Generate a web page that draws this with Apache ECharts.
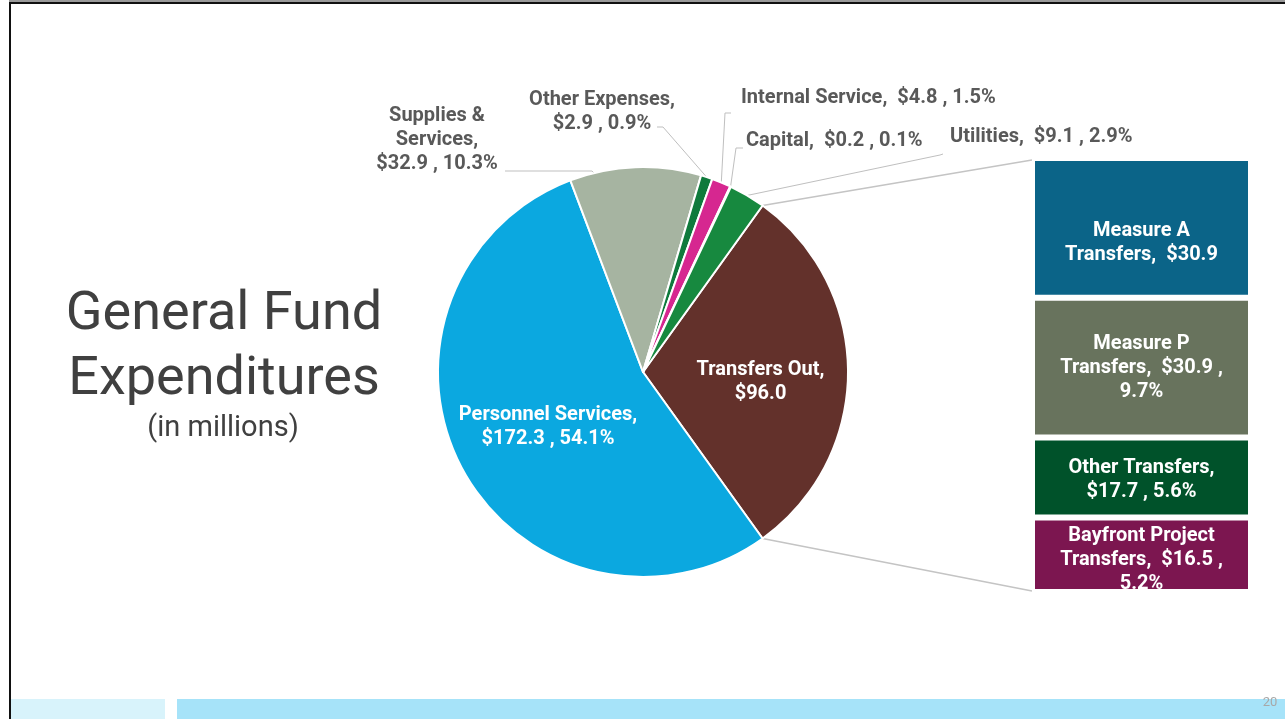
<!DOCTYPE html>
<html>
<head>
<meta charset="utf-8">
<title>General Fund Expenditures</title>
<script src="https://cdn.jsdelivr.net/npm/echarts@6/dist/echarts.min.js"></script>
<style>
  html, body { margin: 0; padding: 0; background: #fff; }
  #main { width: 1285px; height: 719px; }
</style>
</head>
<body>
<div id="main"></div>
<script>
// pie slices, clockwise from the top edge of Transfers Out
const pieNames = ['Transfers Out', 'Personnel Services', 'Supplies &\nServices', 'Other Expenses',
  'Internal Service', 'Capital', 'Utilities'];
const pieValues = [96.0, 172.3, 32.9, 2.9, 4.8, 0.2, 9.1];
const pieColors = ['#63312B', '#0BA8E0', '#A6B4A1', '#0F7A3C', '#D62790', '#1B8A44', '#17893F'];
const pieSep = ['\n', '\n', '\n', '\n', '  ', '  ', '  '];
const piePct = [false, true, true, true, true, true, true];

// breakdown of Transfers Out
const trNames = ['Measure A\nTransfers', 'Measure P\nTransfers', 'Other Transfers', 'Bayfront Project\nTransfers'];
const trValues = [30.9, 30.9, 17.7, 16.5];
const trColors = ['#0B6488', '#68735D', '#00522A', '#7C1650'];
const trSep = ['  ', '  ', '\n', '  '];
const trPct = [false, true, true, true];

const pieTotal = pieValues.reduce((a, b) => a + b, 0);
const trTotal = trValues.reduce((a, b) => a + b, 0);

// layout
const pieCenter = [643, 372];
const pieRadius = 205;
const startAngle = (pieValues[0] / pieTotal) * 180; // Transfers Out centred on the right
const bar = { left: 1032, top: 158, width: 219, height: 434 };
const fs = 20;

// where the outside labels sit (label end -> elbow, anchor on slice)
const labelPlace = [
  { dx: 12, dy: 10 },
  { dx: -2, dy: 5 },
  { x: 437, y: 140, align: 'center', line: [[505, 171], [592, 171]], anchor: [595, 174] },
  { x: 602, y: 112, align: 'center', line: [[657, 127], [663, 127]] },
  { x: 741, y: 98, align: 'left', line: [[731, 113], [725, 113]] },
  { x: 746, y: 141, align: 'left', line: [[743, 148], [736, 148]] },
  { x: 950, y: 137, align: 'left', line: [[943, 154], [940, 155]] }
];
const trOffset = [[0, 15], [0, 0], [0, 3], [0, 5]];

function money(v) { return '$' + v.toFixed(1); }
function pct(v) { return (v / pieTotal * 100).toFixed(1) + '%'; }

const pieData = pieNames.map(function (n, i) {
  const inside = i < 2;
  return {
    name: n,
    value: pieValues[i],
    itemStyle: { color: pieColors[i] },
    label: inside ? { position: 'inside', color: '#fff' } : { position: 'outside', color: '#595959' },
    labelLine: { show: !inside }
  };
});

const barSeries = trNames.map(function (n, i) {
  return {
    name: n,
    type: 'bar',
    stack: 'tr',
    barWidth: '100%',
    data: [trValues[i]],
    itemStyle: { color: trColors[i], borderColor: '#fff', borderWidth: 3 },
    label: {
      show: true,
      position: 'inside',
      offset: trOffset[i],
      color: '#fff',
      fontFamily: 'Roboto',
      fontWeight: 'bold',
      fontSize: fs,
      lineHeight: 24,
      formatter: function () {
        let s = n + ',' + trSep[i] + money(trValues[i]);
        if (trPct[i]) s += ' ,' + (i === 1 || i === 3 ? '\n' : ' ') + pct(trValues[i]);
        return s;
      }
    }
  };
});

const a0 = startAngle * Math.PI / 180;
const pTop = [pieCenter[0] + pieRadius * Math.cos(a0), pieCenter[1] - pieRadius * Math.sin(a0)];
const pBot = [pieCenter[0] + pieRadius * Math.cos(a0), pieCenter[1] + pieRadius * Math.sin(a0)];

const chart = echarts.init(document.getElementById('main'));
chart.setOption({
  animation: false,
  backgroundColor: '#fff',
  textStyle: { fontFamily: 'Roboto' },
  grid: { left: bar.left, top: bar.top, width: bar.width, height: bar.height },
  xAxis: { type: 'category', data: ['Transfers Out'], show: false },
  yAxis: { type: 'value', min: 0, max: trTotal, inverse: true, show: false },
  graphic: [
    // slide frame
    { type: 'rect', shape: { x: 9, y: 0, width: 1280, height: 2 }, style: { fill: '#9A9A9A' } },
    { type: 'rect', shape: { x: 9, y: 2, width: 1280, height: 2 }, style: { fill: '#111' } },
    { type: 'rect', shape: { x: 9, y: 2, width: 2, height: 720 }, style: { fill: '#111' } },
    { type: 'rect', shape: { x: 11, y: 699, width: 154, height: 20 }, style: { fill: '#D8F3FB' } },
    { type: 'rect', shape: { x: 177, y: 699, width: 1108, height: 20 }, style: { fill: '#A6E3F9' } },
    { type: 'text', x: 1270, y: 703, style: { text: '20', fill: '#A8A8A8', font: '13px Roboto', textAlign: 'center', textVerticalAlign: 'middle' } },
    // title
    { type: 'text', x: 224, y: 315, style: { text: 'General Fund', fill: '#404040', font: '54px Roboto', textAlign: 'center', textVerticalAlign: 'middle' } },
    { type: 'text', x: 224, y: 380, style: { text: 'Expenditures', fill: '#404040', font: '54px Roboto', textAlign: 'center', textVerticalAlign: 'middle' } },
    { type: 'text', x: 223, y: 429, style: { text: '(in millions)', fill: '#404040', font: '29px Roboto', textAlign: 'center', textVerticalAlign: 'middle' } },
    // connectors pie -> bar
    { type: 'line', shape: { x1: pTop[0], y1: pTop[1], x2: bar.left, y2: bar.top + 2 }, style: { stroke: '#C4C4C4', lineWidth: 1.5 } },
    { type: 'line', shape: { x1: pBot[0], y1: pBot[1], x2: bar.left, y2: bar.top + bar.height - 1 }, style: { stroke: '#C4C4C4', lineWidth: 1.5 } }
  ],
  series: [
    {
      type: 'pie',
      center: pieCenter,
      radius: pieRadius,
      startAngle: startAngle,
      clockwise: true,
      avoidLabelOverlap: false,
      emphasis: { disabled: true },
      itemStyle: { borderColor: '#fff', borderWidth: 2 },
      label: {
        fontFamily: 'Roboto',
        fontWeight: 'bold',
        fontSize: fs,
        lineHeight: 24,
        formatter: function (p) {
          const i = p.dataIndex;
          let s = pieNames[i] + ',' + pieSep[i] + money(pieValues[i]);
          if (piePct[i]) s += ' , ' + pct(pieValues[i]);
          return s;
        }
      },
      labelLine: { lineStyle: { color: '#BFBFBF', width: 1 } },
      labelLayout: function (p) {
        const lp = labelPlace[p.dataIndex];
        if (lp.dx != null) return { dx: lp.dx, dy: lp.dy };
        const anchor = lp.anchor || (p.labelLinePoints ? p.labelLinePoints[0] : lp.line[1]);
        return {
          x: lp.x,
          y: lp.y,
          align: lp.align,
          verticalAlign: 'middle',
          labelLinePoints: [anchor, lp.line[1], lp.line[0]]
        };
      },
      data: pieData
    }
  ].concat(barSeries)
});
</script>
</body>
</html>
